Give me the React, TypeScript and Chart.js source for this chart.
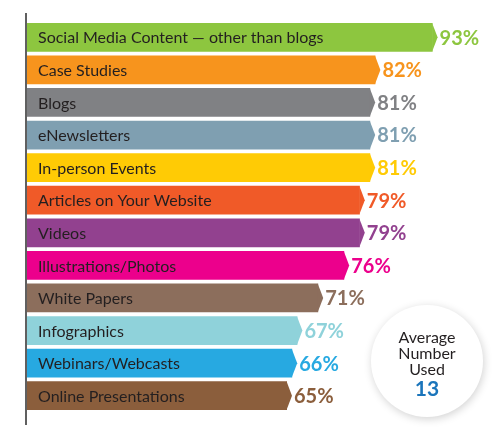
import React, { useEffect, useRef } from "react";
import { Chart, registerables } from "chart.js";

Chart.register(...registerables);

const categories = [
  "Social Media Content — other than blogs",
  "Case Studies",
  "Blogs",
  "eNewsletters",
  "In-person Events",
  "Articles on Your Website",
  "Videos",
  "Illustrations/Photos",
  "White Papers",
  "Infographics",
  "Webinars/Webcasts",
  "Online Presentations",
];
const values = [93, 82, 81, 81, 81, 79, 79, 76, 71, 67, 66, 65];
const barColors = [
  "#8dc63f", "#f7941d", "#808184", "#7f9fb1", "#ffcb05", "#f05a28",
  "#92418f", "#ec008c", "#8c6e5c", "#8fd2da", "#27a9e1", "#8b5e3c",
];
const averageLines = ["Average", "Number", "Used"];
const averageValue = "13";

const FONT = "Lato, 'Open Sans', sans-serif";

const decorPlugin = {
  id: "decor",
  afterDatasetsDraw(chart: any) {
    const ctx = chart.ctx as CanvasRenderingContext2D;
    const meta = chart.getDatasetMeta(0);
    const area = chart.chartArea;
    ctx.save();
    // axis line
    ctx.strokeStyle = "#2b2b2b";
    ctx.lineWidth = 1.5;
    ctx.beginPath();
    ctx.moveTo(area.left - 1, area.top - 8);
    ctx.lineTo(area.left - 1, area.bottom + 13);
    ctx.stroke();
    meta.data.forEach((el: any, i: number) => {
      const h = el.height;
      const c = barColors[i];
      ctx.fillStyle = c;
      ctx.beginPath();
      ctx.moveTo(el.x - 0.5, el.y - h / 2);
      ctx.lineTo(el.x + 5, el.y);
      ctx.lineTo(el.x - 0.5, el.y + h / 2);
      ctx.closePath();
      ctx.fill();
      // category label
      ctx.fillStyle = "#231f20";
      ctx.font = `16px ${FONT}`;
      ctx.textBaseline = "middle";
      ctx.textAlign = "left";
      ctx.fillText(categories[i], area.left + 11, el.y + 1);
      // value label
      ctx.fillStyle = c;
      ctx.font = `bold 20px ${FONT}`;
      ctx.fillText(values[i] + "%", el.x + 7, el.y + 1);
    });
    // circle
    const cx = 427, cy = 361, r = 56;
    ctx.save();
    ctx.shadowColor = "rgba(0,0,0,0.18)";
    ctx.shadowBlur = 8;
    ctx.shadowOffsetX = 1;
    ctx.shadowOffsetY = 2;
    ctx.fillStyle = "#ffffff";
    ctx.beginPath();
    ctx.arc(cx, cy, r, 0, Math.PI * 2);
    ctx.fill();
    ctx.restore();
    ctx.fillStyle = "#231f20";
    ctx.textAlign = "center";
    ctx.textBaseline = "middle";
    ctx.font = `16px ${FONT}`;
    averageLines.forEach((t, k) => {
      ctx.fillText(t, cx, 338 + k * 16);
    });
    ctx.fillStyle = "#1b75bb";
    ctx.font = `bold 21px ${FONT}`;
    ctx.fillText(averageValue, cx, 389);
    ctx.restore();
  },
};

export default function App() {
  const ref = useRef<HTMLCanvasElement>(null);
  useEffect(() => {
    document.body.style.margin = "0";
    const chart = new Chart(ref.current!, {
      type: "bar",
      data: {
        labels: categories,
        datasets: [
          {
            data: values,
            backgroundColor: barColors,
            borderWidth: 0,
            barPercentage: 0.88,
            categoryPercentage: 1,
          },
        ],
      },
      options: {
        indexAxis: "y",
        animation: false,
        responsive: false,
        layout: { padding: { left: 27, right: 25, top: 21, bottom: 16 } },
        plugins: { legend: { display: false }, tooltip: { enabled: false } },
        scales: {
          x: { display: false, min: 15, max: 100 },
          y: { display: false },
        },
      },
      plugins: [decorPlugin],
    });
    return () => chart.destroy();
  }, []);
  return (
    <div style={{ width: 494, height: 428, background: "#fff" }}>
      <canvas ref={ref} width={494} height={428} />
    </div>
  );
}
